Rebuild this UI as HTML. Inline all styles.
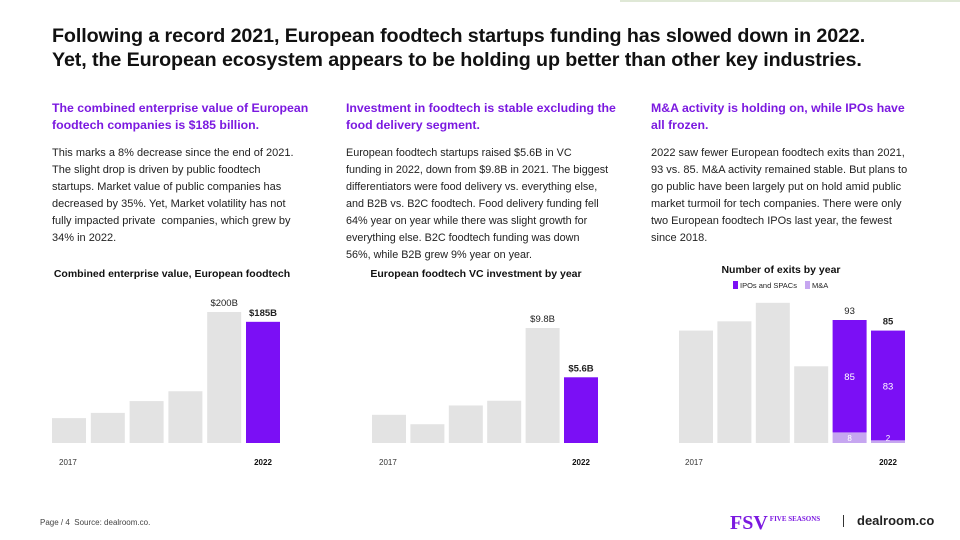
<!DOCTYPE html>
<html><head><meta charset="utf-8">
<style>
body{margin:0;width:960px;height:540px;background:#fff;font-family:"Liberation Sans",sans-serif;position:relative;overflow:hidden;color:#111}
.t{position:absolute}
h1{position:absolute;left:52px;top:24px;margin:0;font-size:19.7px;line-height:24px;font-weight:bold;letter-spacing:-0.1px;white-space:nowrap}
.sub{position:absolute;font-size:12.3px;font-weight:bold;color:#7b19e0;line-height:17px;width:270px}
.p{position:absolute;font-size:11px;line-height:17px;color:#222}
svg{position:absolute;left:0;top:0}
</style></head><body>
<div style="position:absolute;left:620px;top:0;width:340px;height:2px;background:#dfe8d6"></div>
<h1>Following a record 2021, European foodtech startups funding has slowed down in 2022.<br>Yet, the European ecosystem appears to be holding up better than other key industries.</h1>
<div class="sub" style="left:52px;top:100px">The combined enterprise value of European foodtech companies is $185 billion.</div>
<div class="sub" style="left:346px;top:100px">Investment in foodtech is stable excluding the food delivery segment.</div>
<div class="sub" style="left:651px;top:100px">M&amp;A activity is holding on, while IPOs have all frozen.</div>
<div class="p" style="left:52px;top:145px;width:250px">This marks a 8% decrease since the end of 2021. The slight drop is driven by public foodtech startups. Market value of public companies has decreased by 35%. Yet, Market volatility has not fully impacted private&nbsp; companies, which grew by 34% in 2022.</div>
<div class="p" style="left:346px;top:145px;white-space:nowrap;font-size:10.8px">European foodtech startups raised $5.6B in VC<br>funding in 2022, down from $9.8B in 2021. The biggest<br>differentiators were food delivery vs. everything else,<br>and B2B vs. B2C foodtech. Food delivery funding fell<br>64% year on year while there was slight growth for<br>everything else. B2C foodtech funding was down<br>56%, while B2B grew 9% year on year.</div>
<div class="p" style="left:651px;top:145px;width:262px">2022 saw fewer European foodtech exits than 2021, 93 vs. 85. M&amp;A activity remained stable. But plans to go public have been largely put on hold amid public market turmoil for tech companies. There were only two European foodtech IPOs last year, the fewest since 2018.</div>
<svg id="c" width="960" height="540"></svg>
<div class="t" style="left:40px;top:518px;font-size:8px;color:#444">Page / 4 &nbsp;Source: dealroom.co.</div>
<div class="t" style="left:730px;top:512px;font-family:'Liberation Serif',serif;color:#7b19e0;font-size:20px;font-weight:bold">FSV<span style="font-size:7px;position:relative;top:-8px;margin-left:2px">FIVE SEASONS</span></div>
<div class="t" style="left:843px;top:515px;width:1px;height:12px;background:#333"></div>
<div class="t" style="left:857px;top:513px;font-size:13px;font-weight:bold;color:#222">dealroom.co</div>
<script>
const ns="http://www.w3.org/2000/svg";
const svg=document.getElementById('c');
const c1Values=[38,46,64,79,200,185];
const c2Values=[2.4,1.6,3.2,3.6,9.8,5.6];
const c3Total=[85,92,106,58,93,85];
const c3Ipo=[0,0,0,0,85,83];
const c3Ma=[0,0,0,0,8,2];
const c1Labels=["","","","","$200B","$185B"];
const c2Labels=["","","","","$9.8B","$5.6B"];
const c3Labels=["","","","","93","85"];
function el(tag,a,txt){const e=document.createElementNS(ns,tag);for(const k in a)e.setAttribute(k,a[k]);if(txt!==undefined)e.textContent=txt;svg.appendChild(e);return e;}
function txt(x,y,s,size,w,fill,anchor){const t=el('text',{x:x,y:y,'font-size':size,'font-weight':w,fill:fill,'text-anchor':anchor||'middle','font-family':'Liberation Sans, sans-serif'},s);return t;}
const base=443;
function chart(x0,step,bw,vals,maxV,maxH,labels,title,tx,ty,name){
  const y=v=>v/maxV*maxH;
  let t=txt(tx,ty,title,10.5,'bold','#111');
  
  
  vals.forEach((v,i)=>{
    const x=x0+i*step,h=y(v);
    const last=i===vals.length-1;
    const r=el('rect',{x:x,y:base-h,width:bw,height:h,fill:last?'#7b0ff5':'#e3e3e3'});
    
    
    if(labels[i]){const l=txt(x+bw/2,base-h-6,labels[i],9.5,last?'bold':'normal','#222');
      
      }
  });
  let a=txt(x0+bw/2-10,465,'2017',8,'normal','#333','start');
  
  
  let b=txt(x0+5*step+bw/2,465,'2022',8,'bold','#111');
  
  
}
chart(52,38.8,34,c1Values,200,131,c1Labels,'Combined enterprise value, European foodtech',172,277,'ev-chart');
chart(372,38.4,34,c2Values,9.8,115,c2Labels,'European foodtech VC investment by year',476,277,'vc-chart');
(function(){
  const x0=679,step=38.4,bw=34,maxV=93,maxH=123,y=v=>v/maxV*maxH;
  let t=txt(781,273,'Number of exits by year',10.5,'bold','#111');
  
  
  let s1=el('rect',{x:733,y:281,width:5,height:8,fill:'#7b0ff5'});
  
  
  let l1=txt(740,288,'IPOs and SPACs',7.5,'normal','#222','start');
  
  
  let s2=el('rect',{x:805,y:281,width:5,height:8,fill:'#c6a6f0'});
  
  
  let l2=txt(812,288,'M&A',7.5,'normal','#222','start');
  
  
  c3Total.forEach((v,i)=>{
    const x=x0+i*step;
    if(c3Ipo[i]===0){
      const r=el('rect',{x:x,y:base-y(v),width:bw,height:y(v),fill:'#e3e3e3'});
      
      
    } else {
      const hm=y(c3Ma[i]),hi=y(c3Ipo[i]);
      const m=el('rect',{x:x,y:base-hm,width:bw,height:hm,fill:'#c6a6f0'});
      
      
      const p=el('rect',{x:x,y:base-hm-hi,width:bw,height:hi,fill:'#7b0ff5'});
      
      
      const a=txt(x+bw/2,base-hm-hi/2+4,String(c3Ipo[i]),9.5,'normal','#fff');
      
      
      const b=txt(x+bw/2,base-2,String(c3Ma[i]),8,'normal','#fff');
      
      
    }
    if(c3Labels[i]){const l=txt(x+bw/2,base-y(v)-6,c3Labels[i],9.5,i===5?'bold':'normal','#222');
      
      }
  });
  let a=txt(x0+6,465,'2017',8,'normal','#333','start');
  
  
  let b=txt(x0+5*step+bw/2,465,'2022',8,'bold','#111');
  
  
})();
</script>
</body></html>
